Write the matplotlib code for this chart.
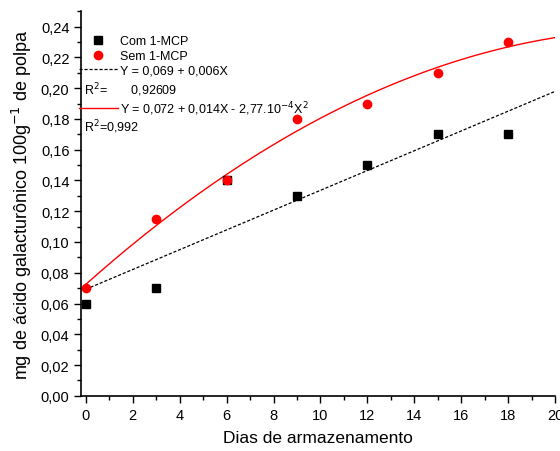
import numpy as np
import matplotlib
matplotlib.use('Agg')
import matplotlib.pyplot as plt
from matplotlib.ticker import FuncFormatter, MultipleLocator
from matplotlib.lines import Line2D

plt.rcParams['font.family'] = ['Liberation Sans', 'DejaVu Sans']

dias = [0, 3, 6, 9, 12, 15, 18]
com_mcp = [0.06, 0.07, 0.14, 0.13, 0.15, 0.17, 0.17]
sem_mcp = [0.07, 0.115, 0.14, 0.18, 0.19, 0.21, 0.23]

# ajustes: linear (com) e quadratico (sem)
lin = np.polyfit(dias, com_mcp, 1)
quad = np.polyfit(dias, sem_mcp, 2)
xfit = np.linspace(0, 20, 200)

fig = plt.figure(figsize=(5.6, 4.52), dpi=100)
ax = fig.add_axes([0.145, 0.122, 0.846, 0.851])

ax.plot(xfit, np.polyval(lin, xfit), color='black', ls=(0, (2.5, 1.5)), lw=0.9)
ax.plot(xfit, np.polyval(quad, xfit), color='red', lw=1.0)
ax.plot(dias, com_mcp, 's', color='black', ms=5.5, ls='none')
ax.plot(dias, sem_mcp, 'o', color='red', ms=6, ls='none')

ax.set_xlim(-0.2, 20)
ax.set_ylim(0, 0.25)
ax.xaxis.set_major_locator(MultipleLocator(2))
ax.xaxis.set_minor_locator(MultipleLocator(1))
ax.yaxis.set_major_locator(MultipleLocator(0.02))
ax.yaxis.set_minor_locator(MultipleLocator(0.01))
ax.yaxis.set_major_formatter(FuncFormatter(lambda v, p: f'{v:.2f}'.replace('.', ',')))
ax.xaxis.set_major_formatter(FuncFormatter(lambda v, p: f'{v:.0f}'))
ax.tick_params(which='major', direction='out', length=5, width=1, labelsize=10.5)
ax.tick_params(which='minor', direction='out', length=3, width=1)
for s in ['top', 'right']:
    ax.spines[s].set_visible(False)
for s in ['left', 'bottom']:
    ax.spines[s].set_linewidth(1.2)

ax.set_xlabel('Dias de armazenamento', fontsize=12.5, labelpad=6)
ax.set_ylabel('mg de ácido galacturônico 100g$^{-1}$ de polpa', fontsize=13, labelpad=5)

fs = 9
h1 = [Line2D([], [], marker='s', color='black', ls='none', ms=5.5),
      Line2D([], [], marker='o', color='red', ls='none', ms=6),
      Line2D([], [], color='black', ls=(0, (2.5, 1.5)), lw=0.9)]
l1 = ['Com 1-MCP', 'Sem 1-MCP', 'Y = 0,069 + 0,006X']
leg1 = ax.legend(h1, l1, loc='upper left', bbox_to_anchor=(-0.005, 0.937), frameon=False,
                 fontsize=fs, handlelength=3.1, handletextpad=0.2, labelspacing=0.2,
                 borderpad=0, borderaxespad=0)
ax.add_artist(leg1)
h2 = [Line2D([], [], color='red', lw=1.0)]
l2 = ['Y = 0,072 + 0,014X - 2,77.10$^{-4}$X$^{2}$']
ax.legend(h2, l2, loc='upper left', bbox_to_anchor=(-0.005, 0.772), frameon=False,
          fontsize=fs, handlelength=3.1, handletextpad=0.2, borderpad=0, borderaxespad=0)

ax.text(0.005, 0.797, 'R$^{2}$=       0,92609', transform=ax.transAxes, fontsize=fs, va='center')
ax.text(0.005, 0.702, 'R$^{2}$=0,992', transform=ax.transAxes, fontsize=fs, va='center')

fig.savefig('out.png', dpi=100)
